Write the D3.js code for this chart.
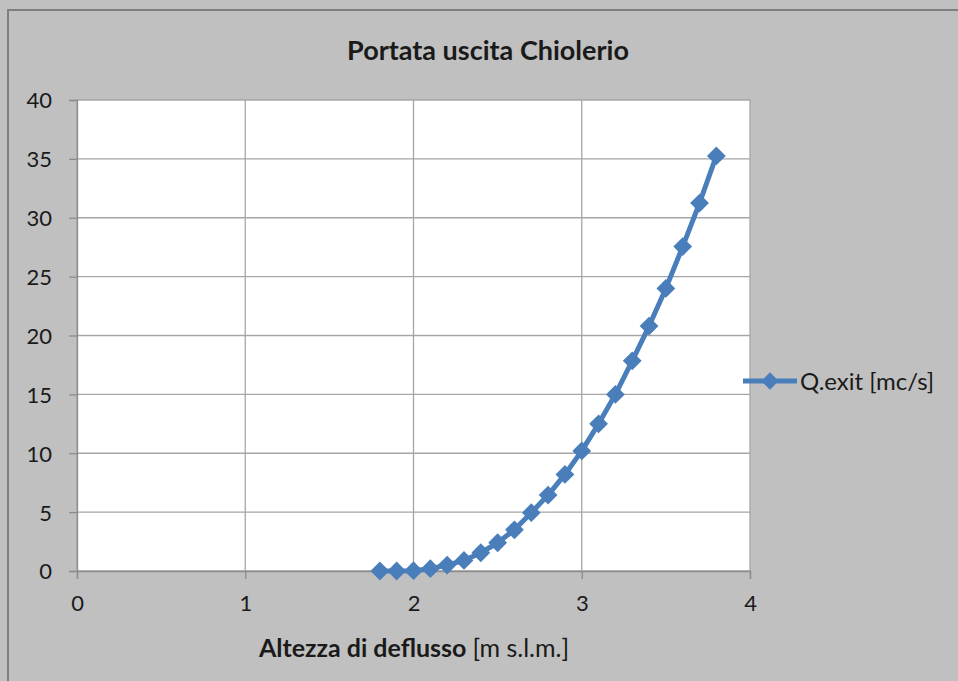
<!DOCTYPE html>
<html>
  <head>
    <meta charset="utf-8">
    <title>Portata uscita Chiolerio</title>
    <script src="https://d3js.org/d3.v7.min.js"></script>
    <style>
      body { margin: 0; background: #c0c0c0; }
      text { font-family: Lato, "Open Sans", sans-serif; fill: #1a1a1a; }
    </style>
  </head>
  <body>
    <script>

      // data
      var heights = [1.8, 1.9, 2.0, 2.1, 2.2, 2.3, 2.4, 2.5, 2.6, 2.7, 2.8,
                     2.9, 3.0, 3.1, 3.2, 3.3, 3.4, 3.5, 3.6, 3.7, 3.8]
      var flows = [0, 0, 0.03, 0.2, 0.5, 0.9, 1.55, 2.4, 3.5, 4.95, 6.45,
                   8.2, 10.2, 12.5, 15.0, 17.85, 20.8, 24.0, 27.55, 31.25, 35.25]
      var x_ticks = [0, 1, 2, 3, 4]
      var y_ticks = [0, 5, 10, 15, 20, 25, 30, 35, 40]
      var series_name = "Q.exit [mc/s]"

      var w_svg = 958
      var h_svg = 681
      var plot_left = 77, plot_right = 750, plot_top = 100, plot_bottom = 571
      var blue = "#4a7ebb"

      var svg = d3.select("body")
        .append("svg")
        .attr("width", w_svg)
        .attr("height", h_svg)

      // chart area background + border
      svg.append("rect")
        .attr("x", 0).attr("y", 0)
        .attr("width", w_svg).attr("height", h_svg)
        .attr("fill", "#c0c0c0")
      svg.append("path")
        .attr("d", "M8," + h_svg + "V10H" + w_svg)
        .attr("fill", "none")
        .attr("stroke", "#7f7f7f")
        .attr("stroke-width", 2)

      var x_scale = d3.scaleLinear().domain([0, 4]).range([plot_left, plot_right])
      var y_scale = d3.scaleLinear().domain([0, 40]).range([plot_bottom, plot_top])

      // plot area
      svg.append("rect")
        .attr("x", plot_left).attr("y", plot_top)
        .attr("width", plot_right - plot_left).attr("height", plot_bottom - plot_top)
        .attr("fill", "white")

      // grid lines
      svg.append("g").selectAll("line")
        .data(y_ticks)
        .enter().append("line")
        .attr("x1", plot_left).attr("x2", plot_right)
        .attr("y1", function(d) { return y_scale(d) })
        .attr("y2", function(d) { return y_scale(d) })
        .attr("stroke", "#a6a6a6").attr("stroke-width", 1.3)
      svg.append("g").selectAll("line")
        .data(x_ticks)
        .enter().append("line")
        .attr("y1", plot_top).attr("y2", plot_bottom)
        .attr("x1", function(d) { return x_scale(d) })
        .attr("x2", function(d) { return x_scale(d) })
        .attr("stroke", "#a6a6a6").attr("stroke-width", 1.3)

      // axes
      var x_axis = d3.axisBottom(x_scale).tickValues(x_ticks)
        .tickFormat(d3.format("d")).tickSize(8).tickPadding(16)
      var y_axis = d3.axisLeft(y_scale).tickValues(y_ticks)
        .tickFormat(d3.format("d")).tickSize(8).tickPadding(17)

      var gx = svg.append("g")
        .attr("transform", "translate(0," + plot_bottom + ")")
        .call(x_axis)
      var gy = svg.append("g")
        .attr("transform", "translate(" + plot_left + ",0)")
        .call(y_axis)

      ;[gx, gy].forEach(function(g) {
        g.select(".domain").attr("stroke", "#8c8c8c").attr("stroke-width", 1.3)
        g.selectAll(".tick line").attr("stroke", "#8c8c8c").attr("stroke-width", 1.3)
        g.selectAll(".tick text")
          .style("font-family", "Lato, sans-serif")
          .style("font-size", "22px")
          .attr("fill", "#1a1a1a")
      })
      gy.selectAll(".tick text").attr("dy", "0.36em")

      // series line
      var line = d3.line()
        .x(function(d, i) { return x_scale(heights[i]) })
        .y(function(d) { return y_scale(d) })

      svg.append("path")
        .datum(flows)
        .attr("d", line)
        .attr("fill", "none")
        .attr("stroke", blue)
        .attr("stroke-width", 5)
        .attr("stroke-linejoin", "round")

      // diamond markers
      var diamond = d3.symbol().type(d3.symbolDiamond2).size(225)
      svg.append("g").selectAll("path")
        .data(flows)
        .enter().append("path")
        .attr("d", diamond)
        .attr("transform", function(d, i) {
          return "translate(" + x_scale(heights[i]) + "," + y_scale(d) + ")"
        })
        .attr("fill", blue)

      // title
      svg.append("text")
        .attr("x", 488).attr("y", 60)
        .attr("text-anchor", "middle")
        .style("font-size", "27px")
        .style("font-weight", "bold")
        .text("Portata uscita Chiolerio")

      // x-axis title
      var xt = svg.append("text")
        .attr("x", 414).attr("y", 657)
        .attr("text-anchor", "middle")
        .style("font-size", "25px")
      xt.append("tspan").style("font-weight", "bold").text("Altezza di deflusso ")
      xt.append("tspan").text("[m s.l.m.]")

      // legend
      var ly = 381
      svg.append("line")
        .attr("x1", 743).attr("x2", 797)
        .attr("y1", ly).attr("y2", ly)
        .attr("stroke", blue).attr("stroke-width", 5)
      svg.append("path")
        .attr("d", d3.symbol().type(d3.symbolDiamond2).size(190))
        .attr("transform", "translate(770," + ly + ")")
        .attr("fill", blue)
      svg.append("text")
        .attr("x", 800).attr("y", ly)
        .attr("dy", "0.36em")
        .style("font-size", "24px")
        .text(series_name)

    </script>
  </body>
</html>
